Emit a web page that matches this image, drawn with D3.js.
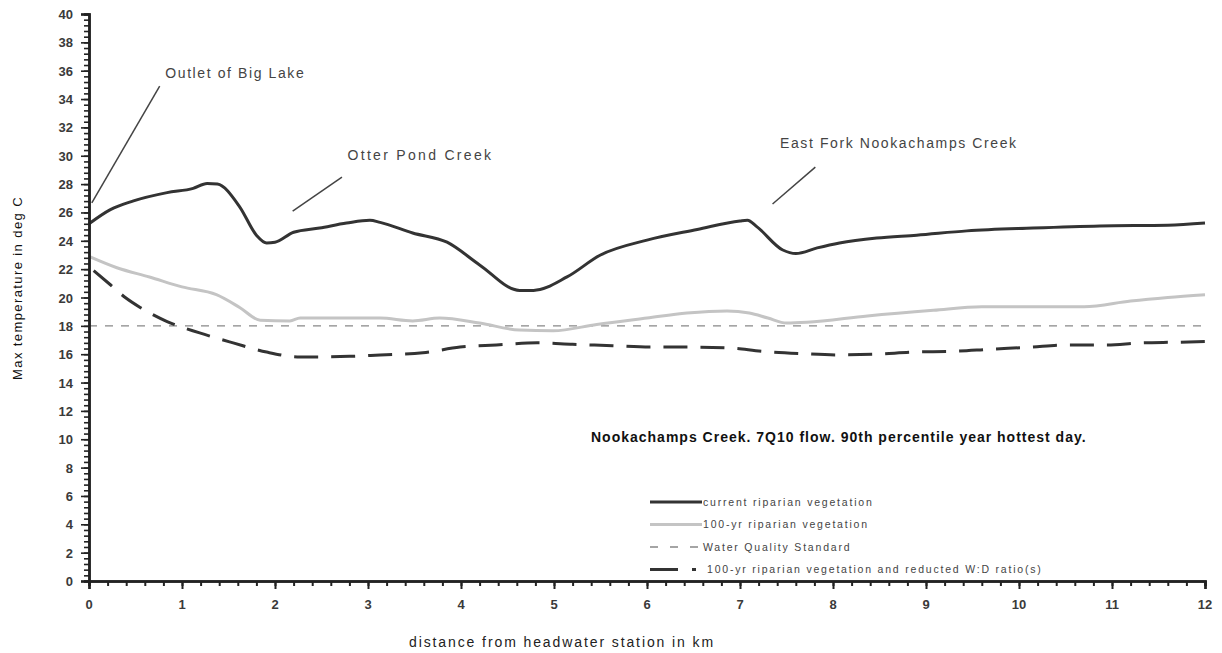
<!DOCTYPE html>
<html><head><meta charset="utf-8">
<script src="https://cdn.jsdelivr.net/npm/d3@7"></script>
<style>body{margin:0;background:#fff}svg{display:block;font-family:"Liberation Sans",Arial,sans-serif}</style>
</head><body><svg id="c" width="1222" height="653"></svg>
<script>
const currentX = [0,0.23,0.47,0.84,1.12,1.27,1.38,1.62,1.8,1.91,2.0,2.2,2.48,2.77,3.02,3.13,3.48,3.85,4.2,4.63,4.78,5.14,5.5,6.0,6.54,7.0,7.08,7.18,7.46,7.6,7.83,8.07,8.47,8.9,9.44,10.15,10.87,11.6,12];
const currentY = [25.2,26.2,26.8,27.4,27.7,28.05,28.0,26.4,24.4,23.85,23.9,24.6,24.9,25.25,25.45,25.3,24.55,23.9,22.3,20.5,20.5,21.45,23.0,24.05,24.8,25.4,25.45,25.0,23.35,23.1,23.5,23.85,24.2,24.4,24.7,24.9,25.05,25.1,25.25];
const veg100X = [0,0.3,0.65,1.0,1.37,1.62,1.84,2.16,2.27,3.13,3.48,3.77,4.2,4.63,4.99,5.46,6.0,6.43,6.86,7.1,7.3,7.5,7.72,8.37,9.08,9.6,10.7,11.2,11.6,12];
const veg100Y = [22.9,22.1,21.45,20.75,20.2,19.3,18.4,18.35,18.55,18.55,18.35,18.55,18.2,17.7,17.65,18.1,18.55,18.9,19.05,18.9,18.55,18.2,18.25,18.7,19.1,19.35,19.35,19.75,20.0,20.2];
const reducedX = [0.05,0.23,0.39,0.55,0.84,1.19,1.55,1.91,2.27,2.8,3.13,3.59,3.99,4.38,4.82,5.2,5.63,6.03,6.43,6.86,7.25,7.65,8.07,8.47,8.86,9.29,9.69,10.12,10.5,10.95,11.3,11.73,12];
const reducedY = [21.9,20.9,20.0,19.3,18.3,17.5,16.8,16.15,15.8,15.85,15.95,16.1,16.5,16.65,16.8,16.7,16.6,16.5,16.5,16.45,16.2,16.05,15.95,16.0,16.15,16.2,16.35,16.5,16.65,16.65,16.8,16.85,16.9];
const standardX = [0,12];
const standardY = [18,18];
const xTicks = [0,1,2,3,4,5,6,7,8,9,10,11,12];
const yTicks = [0,2,4,6,8,10,12,14,16,18,20,22,24,26,28,30,32,34,36,38,40];
const legendLabels = ["current riparian vegetation","100-yr riparian vegetation","Water Quality Standard","100-yr riparian vegetation and reducted W:D ratio(s)"];
const annotations = [
  {text:"Outlet of Big Lake", tx:0.82, ty:35.5, x1:0.03, y1:26.67, x2:0.76, y2:34.92, ls:1.6},
  {text:"Otter Pond Creek", tx:2.78, ty:29.7, x1:2.19, y1:26.1, x2:2.72, y2:28.5, ls:2.3},
  {text:"East Fork Nookachamps Creek", tx:7.43, ty:30.55, x1:7.35, y1:26.6, x2:7.81, y2:29.2, ls:1.6}
];
const title = "Nookachamps Creek. 7Q10 flow. 90th percentile year hottest day.";

const svg = d3.select("#c");
const x = d3.scaleLinear().domain([0,12]).range([89,1205]);
const y = d3.scaleLinear().domain([0,40]).range([581,14]);

const zip = (a,b)=>a.map((v,i)=>[v,b[i]]);
const line = d3.line().x(d=>x(d[0])).y(d=>y(d[1])).curve(d3.curveMonotoneX);

// series
svg.append("path").attr("d", line(zip(standardX,standardY))).attr("fill","none")
  .attr("stroke","#888").attr("stroke-width",1.3).attr("stroke-dasharray","8,8");
svg.append("path").attr("d", line(zip(veg100X,veg100Y))).attr("fill","none")
  .attr("stroke","#c4c4c4").attr("stroke-width",3);
svg.append("path").attr("d", line(zip(reducedX,reducedY))).attr("fill","none")
  .attr("stroke","#333").attr("stroke-width",3).attr("stroke-dasharray","24,13");
svg.append("path").attr("d", line(zip(currentX,currentY))).attr("fill","none")
  .attr("stroke","#333").attr("stroke-width",3);

// axes
const minorX = d3.range(0,12.001,0.2);
const minorY = d3.range(0,40.001,0.4);
const gx = svg.append("g").attr("transform",`translate(0,${y(0)})`);
gx.call(d3.axisBottom(x).tickValues(minorX).tickSize(5).tickFormat(""));
gx.append("g").call(d3.axisBottom(x).tickValues(xTicks).tickSize(8).tickFormat(""));
gx.selectAll(".domain").attr("stroke","#222").attr("stroke-width",2.5);
gx.selectAll(".tick line").attr("stroke","#222").attr("stroke-width",2);
gx.selectAll(".xl").data(xTicks).enter().append("text")
  .attr("x",d=>x(d)).attr("y",28).attr("text-anchor","middle")
  .attr("font-size",13).attr("font-weight","bold").attr("fill","#3a3a3a").text(d=>d);

const gy = svg.append("g").attr("transform",`translate(${x(0)},0)`);
gy.call(d3.axisLeft(y).tickValues(minorY).tickSize(5).tickFormat(""));
gy.append("g").call(d3.axisLeft(y).tickValues(yTicks).tickSize(8).tickFormat(""));
gy.selectAll(".domain").attr("stroke","#222").attr("stroke-width",2.5);
gy.selectAll(".tick line").attr("stroke","#222").attr("stroke-width",1.6);
gy.selectAll(".yl").data(yTicks).enter().append("text")
  .attr("x",-16).attr("y",d=>y(d)+5).attr("text-anchor","end")
  .attr("font-size",13).attr("font-weight","bold").attr("fill","#3a3a3a").text(d=>d);

// axis titles
svg.append("text").attr("x",562).attr("y",647).attr("text-anchor","middle")
  .attr("font-size",14).attr("letter-spacing",1.9).attr("fill","#222").text("distance from headwater station in km");
svg.append("text").attr("transform","translate(22,288) rotate(-90)").attr("text-anchor","middle")
  .attr("font-size",13).attr("letter-spacing",1.4).attr("fill","#111").text("Max temperature in deg C");

// annotations
annotations.forEach(a=>{
  svg.append("line").attr("x1",x(a.x1)).attr("y1",y(a.y1)).attr("x2",x(a.x2)).attr("y2",y(a.y2))
    .attr("stroke","#444").attr("stroke-width",1.5);
  svg.append("text").attr("x",x(a.tx)).attr("y",y(a.ty)).attr("font-size",14)
    .attr("letter-spacing",a.ls).attr("fill","#444").text(a.text);
});

// title
svg.append("text").attr("x",591).attr("y",442).attr("font-size",14).attr("font-weight","bold")
  .attr("letter-spacing",1).attr("fill","#111").text(title);

// legend
const lg = svg.append("g").attr("transform","translate(650,502)");
const styles = [
  {stroke:"#333",w:3,dash:null},
  {stroke:"#c4c4c4",w:3,dash:null},
  {stroke:"#888",w:1.3,dash:"8,12"},
  {stroke:"#333",w:3,dash:"28,14,4,20"}
];
legendLabels.forEach((t,i)=>{
  const gy2 = i*22.5;
  lg.append("line").attr("x1",0).attr("x2",52).attr("y1",gy2).attr("y2",gy2)
    .attr("stroke",styles[i].stroke).attr("stroke-width",styles[i].w)
    .attr("stroke-dasharray",styles[i].dash);
  lg.append("text").attr("x",i===3?57:53).attr("y",gy2+3.5).attr("font-size",10.5)
    .attr("letter-spacing",1.8).attr("fill","#444").text(t);
});
</script></body></html>
